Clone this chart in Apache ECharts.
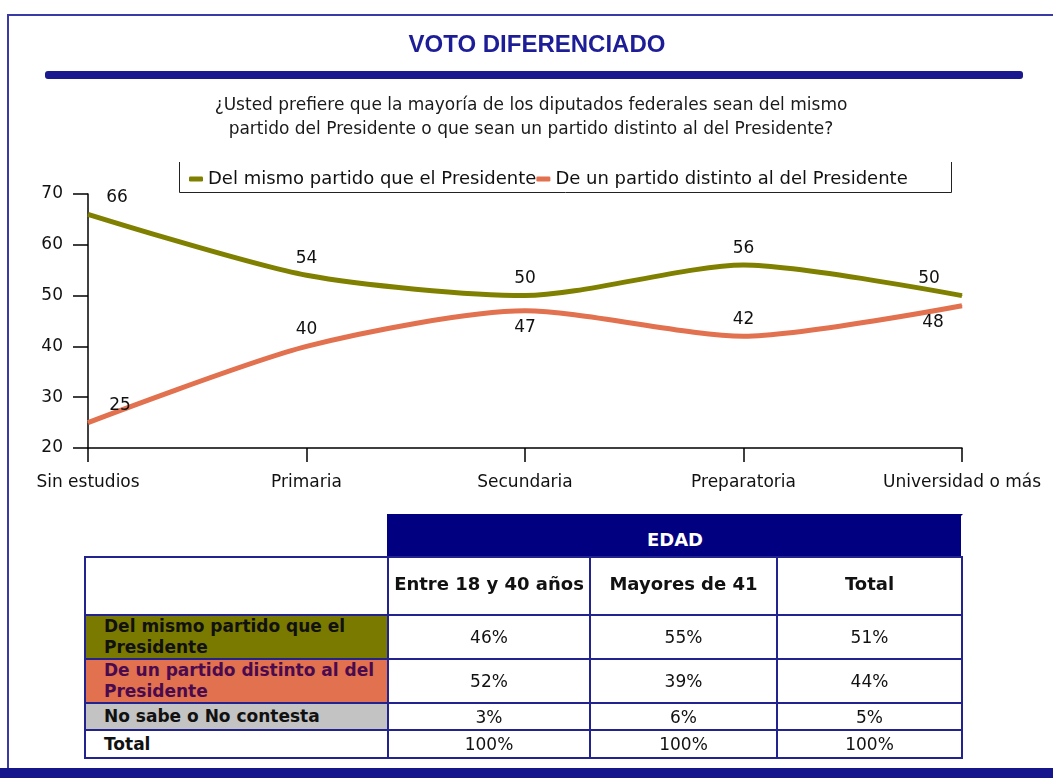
<!DOCTYPE html>
<html>
<head>
<meta charset="utf-8">
<script src="https://cdn.jsdelivr.net/npm/echarts@6/dist/echarts.min.js"></script>
<style>
  body { margin: 0; background: #fff; }
  #wrap { position: relative; width: 1053px; height: 778px; overflow: hidden; background: #fff; }
  #chart { position: absolute; left: 0; top: 0; width: 1053px; height: 778px; }
  .frameTop { position: absolute; left: 8px; top: 14px; width: 1045px; height: 2px; background: #3a3aa6; }
  .frameLeft { position: absolute; left: 7px; top: 14px; width: 2px; height: 764px; background: #3a3aa6; }
  .frameBottom { position: absolute; left: 0; top: 768px; width: 1053px; height: 10px; background: #15158c; }
  .titleBar { position: absolute; left: 45px; top: 71px; width: 978px; height: 8px; background: #1a1a8e; border-radius: 3px; }
  .cell { position: absolute; box-sizing: border-box; border: 2px solid #23238f; font-family: "DejaVu Sans", sans-serif; color: #111;
          display: flex; align-items: center; justify-content: center; overflow: visible; white-space: pre; }
  .rowLabel { justify-content: flex-start; padding-left: 18px; font-weight: bold; font-size: 17px; line-height: 21px; overflow: hidden; }
  .head { font-weight: bold; font-size: 18px; }
  .val { font-size: 17px; }
</style>
</head>
<body>
<div id="wrap">
  <div id="chart"></div>
  <div class="frameTop"></div>
  <div class="frameLeft"></div>
  <div class="titleBar"></div>
  <div id="tabla"></div>
  <div class="frameBottom"></div>
</div>
<script>
// datos de la gráfica
const categorias = ['Sin estudios', 'Primaria', 'Secundaria', 'Preparatoria', 'Universidad o más'];
const mismoPartido = [66, 54, 50, 56, 50];
const distintoPartido = [25, 40, 47, 42, 48];
const nombresSeries = ['Del mismo partido que el Presidente', 'De un partido distinto al del Presidente'];

// datos de la tabla por edad
const tablaTitulo = 'EDAD';
const tablaColumnas = ['Entre 18 y 40 años', 'Mayores de 41', 'Total'];
const tablaFilas = ['Del mismo partido que el\nPresidente', 'De un partido distinto al del\nPresidente', 'No sabe o No contesta', 'Total'];
const filaMismo = ['46%', '55%', '51%'];
const filaDistinto = ['52%', '39%', '44%'];
const filaNoSabe = ['3%', '6%', '5%'];
const filaTotal = ['100%', '100%', '100%'];

// colocación de etiquetas (estilo, no datos)
const etqMismo = [['top', [29, 0]], ['top', [0, 0]], ['top', [0, 0]], ['top', [0, 0]], ['top', [-33, 0]]];
const etqDistinto = [['top', [32, 0]], ['top', [0, 0]], ['bottom', [0, 0]], ['top', [0, 0]], ['bottom', [-29, 0]]];

const OLIVA = '#808000';
const NARANJA = '#e2714f';
const FONT = 'DejaVu Sans';

function conEtiquetas(valores, posiciones) {
    return valores.map((v, i) => ({
        value: v,
        label: { position: posiciones[i][0], offset: posiciones[i][1] }
    }));
}

const chart = echarts.init(document.getElementById('chart'), null, { renderer: 'canvas' });
chart.setOption({
    animation: false,
    backgroundColor: '#fff',
    graphic: [
        {
            type: 'text', x: 537, y: 33,
            style: {
                text: 'VOTO DIFERENCIADO',
                font: 'bold 24px "Liberation Sans"', fill: '#1d1d98', textAlign: 'center'
            }
        },
        {
            type: 'text', x: 531, y: 94,
            style: {
                text: '¿Usted prefiere que la mayoría de los diputados federales sean del mismo\npartido del Presidente o que sean un partido distinto al del Presidente?',
                font: '17px "DejaVu Sans"', fill: '#1a1a1a', textAlign: 'center', lineHeight: 24
            }
        },
        // borde de la leyenda (sin línea superior)
        { type: 'polyline', shape: { points: [[179.5, 162], [179.5, 192.5], [951.5, 192.5], [951.5, 162]] },
          style: { stroke: '#222', lineWidth: 1, fill: null } }
    ],
    legend: {
        top: 165,
        left: 184,
        itemGap: 0,
        itemWidth: 14,
        itemHeight: 5,
        icon: 'roundRect',
        textStyle: { fontFamily: FONT, fontSize: 18, color: '#111' },
        data: [
            { name: nombresSeries[0], textStyle: { width: 350 } },
            { name: nombresSeries[1] }
        ]
    },
    grid: { left: 88, right: 91, top: 194, bottom: 330, containLabel: false },
    xAxis: {
        type: 'category',
        data: categorias,
        boundaryGap: false,
        axisLine: { lineStyle: { color: '#000', width: 1.5 } },
        axisTick: { show: true, length: 14, lineStyle: { color: '#000', width: 1.5 } },
        axisLabel: { fontFamily: FONT, fontSize: 17, color: '#111', margin: 26 },
        splitLine: { show: false }
    },
    yAxis: {
        type: 'value',
        min: 20,
        max: 70,
        interval: 10,
        axisLine: { show: true, lineStyle: { color: '#000', width: 1.5 } },
        axisTick: { show: true, length: 15, lineStyle: { color: '#000', width: 1.5 } },
        axisLabel: { fontFamily: FONT, fontSize: 17, color: '#111', margin: 25 },
        splitLine: { show: false }
    },
    series: [
        {
            name: nombresSeries[0],
            type: 'line',
            smooth: 0.25,
            symbol: 'circle',
            symbolSize: 1,
            lineStyle: { color: OLIVA, width: 5 },
            itemStyle: { color: OLIVA },
            label: { show: true, distance: 8, fontFamily: FONT, fontSize: 17, color: '#111' },
            data: conEtiquetas(mismoPartido, etqMismo)
        },
        {
            name: nombresSeries[1],
            type: 'line',
            smooth: 0.25,
            symbol: 'circle',
            symbolSize: 1,
            lineStyle: { color: NARANJA, width: 5 },
            itemStyle: { color: NARANJA },
            label: { show: true, distance: 8, fontFamily: FONT, fontSize: 17, color: '#111' },
            data: conEtiquetas(distintoPartido, etqDistinto)
        }
    ]
});

// tabla: se arma con celdas posicionadas
const colX = [85, 388, 590, 777, 962];
const rowY = [515, 557, 615, 659, 703, 730, 758];
const fondos = ['#7a7a00', '#e2714f', '#c3c3c3', '#ffffff'];
const colorTexto = ['#111', '#4a0a4e', '#111', '#111'];
const tabla = document.getElementById('tabla');

function celda(x0, y0, x1, y1, texto, clase, extra) {
    const d = document.createElement('div');
    d.className = 'cell ' + clase;
    d.style.left = (x0 - 1) + 'px';
    d.style.top = (y0 - 1) + 'px';
    d.style.width = (x1 - x0 + 2) + 'px';
    d.style.height = (y1 - y0 + 2) + 'px';
    d.textContent = texto;
    Object.assign(d.style, extra || {});
    tabla.appendChild(d);
}

celda(colX[1], rowY[0], colX[4], rowY[1], tablaTitulo, 'head', { background: '#000080', color: '#fff', paddingTop: '6px', borderColor: '#000080', borderRightColor: '#fff' });
celda(colX[0], rowY[1], colX[1], rowY[2], '', 'val', {});
tablaColumnas.forEach((c, i) => celda(colX[i + 1], rowY[1], colX[i + 2], rowY[2], c, 'head', { paddingBottom: '6px' }));

const filasValores = [filaMismo, filaDistinto, filaNoSabe, filaTotal];
tablaFilas.forEach((f, r) => {
    celda(colX[0], rowY[r + 2], colX[1], rowY[r + 3], f, 'rowLabel', { background: fondos[r], color: colorTexto[r] });
    filasValores[r].forEach((v, i) => celda(colX[i + 1], rowY[r + 2], colX[i + 2], rowY[r + 3], v, 'val', {}));
});
</script>
</body>
</html>
